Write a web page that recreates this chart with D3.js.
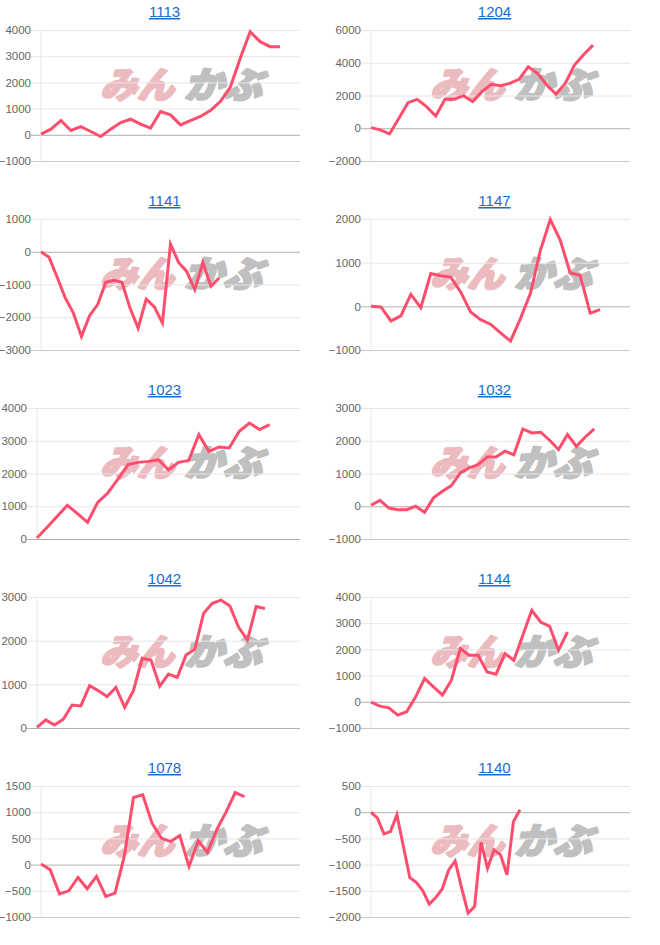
<!DOCTYPE html>
<html>
<head>
<meta charset="utf-8">
<script src="https://cdn.jsdelivr.net/npm/d3@7"></script>
<style>
  body { margin: 0; background: #fff; }
  svg { display: block; }
</style>
</head>
<body>
<div id="vis"></div>
<script>
// titulos de cada grafico (codigos)
const TITLES = ["1113", "1204", "1141", "1147", "1023", "1032", "1042", "1144", "1078", "1140"];

// cantidad de etiquetas en el eje x de cada grafico (etiquetas ocultas)
const SLOTS = [27, 29, 33, 27, 27, 30, 31, 30, 29, 41];

// ticks del eje y
const TICKS_1113 = [-1000, 0, 1000, 2000, 3000, 4000];
const TICKS_1204 = [-2000, 0, 2000, 4000, 6000];
const TICKS_1141 = [-3000, -2000, -1000, 0, 1000];
const TICKS_1147 = [-1000, 0, 1000, 2000];
const TICKS_1023 = [0, 1000, 2000, 3000, 4000];
const TICKS_1032 = [-1000, 0, 1000, 2000, 3000];
const TICKS_1042 = [0, 1000, 2000, 3000];
const TICKS_1144 = [-1000, 0, 1000, 2000, 3000, 4000];
const TICKS_1078 = [-1000, -500, 0, 500, 1000, 1500];
const TICKS_1140 = [-2000, -1500, -1000, -500, 0, 500];

// valores de cada serie
const V_1113 = [25, 215, 545, 165, 315, 125, -65, 215, 470, 595, 405, 255, 890, 760, 380, 545, 700, 925, 1270, 1815, 2920, 3935, 3555, 3365, 3365];
const V_1204 = [40, -100, -345, 600, 1565, 1765, 1320, 750, 1765, 1765, 1990, 1625, 2235, 2680, 2600, 2740, 2985, 3755, 3350, 2640, 2090, 2740, 3860, 4510, 5075];
const V_1141 = [0, -170, -780, -1410, -1870, -2585, -1950, -1615, -935, -875, -935, -1720, -2330, -1445, -1685, -2175, 235, -325, -600, -1160, -325, -1055, -800];
const V_1147 = [0, -15, -335, -220, 275, -30, 750, 700, 670, 330, -130, -305, -410, -610, -795, -280, 290, 1280, 1985, 1510, 765, 710, -155, -75];
const V_1023 = [30, 360, 695, 1030, 775, 510, 1120, 1405, 1830, 2270, 2340, 2370, 2420, 2115, 2340, 2400, 3185, 2675, 2810, 2780, 3290, 3540, 3340, 3490];
const V_1032 = [30, 180, -55, -105, -105, 0, -185, 255, 460, 630, 1020, 1170, 1270, 1505, 1505, 1680, 1575, 2360, 2240, 2260, 2015, 1730, 2190, 1830, 2115, 2360];
const V_1042 = [15, 185, 70, 200, 525, 505, 970, 855, 720, 930, 475, 855, 1595, 1555, 960, 1235, 1160, 1670, 1800, 2625, 2855, 2930, 2795, 2305, 2015, 2780, 2735];
const V_1144 = [-15, -165, -230, -510, -380, 190, 890, 570, 255, 825, 2030, 1775, 1775, 1140, 1055, 1840, 1585, 2540, 3490, 3045, 2880, 1965, 2665];
const V_1078 = [10, -100, -560, -500, -245, -460, -225, -605, -545, 155, 1280, 1330, 790, 505, 440, 555, -35, 455, 230, 665, 1000, 1375, 1295];
const V_1140 = [0, -115, -415, -370, -50, -650, -1250, -1340, -1500, -1755, -1630, -1465, -1100, -930, -1450, -1925, -1800, -575, -1070, -720, -815, -1195, -180, 45];

const TICKS = [TICKS_1113, TICKS_1204, TICKS_1141, TICKS_1147, TICKS_1023, TICKS_1032, TICKS_1042, TICKS_1144, TICKS_1078, TICKS_1140];
const VALUES = [V_1113, V_1204, V_1141, V_1147, V_1023, V_1032, V_1042, V_1144, V_1078, V_1140];

// Constantes del layout
const SVG_WIDTH = 660;
const SVG_HEIGHT = 945;
const COL_W = 330;
const ROW_H = 189;
const PLOT_TOP = 30;
const PLOT_H = 131;
const PLOT_RIGHT = 300;
const LINE_COLOR = "#ff4d6d";
const TICK_FONT = "11.5px 'Liberation Sans', Arial, sans-serif";

const SVG = d3.select("#vis").append("svg")
  .attr("width", SVG_WIDTH)
  .attr("height", SVG_HEIGHT);

// para medir el ancho de las etiquetas (como hace chart.js)
const ctx = document.createElement("canvas").getContext("2d");
ctx.font = TICK_FONT;

TITLES.forEach((title, i) => {
  const col = i % 2;
  const row = Math.floor(i / 2);
  const x0 = col * COL_W;
  const y0 = row * ROW_H;
  const ticks = TICKS[i];
  const values = VALUES[i];

  const maxLabel = d3.max(ticks, t => ctx.measureText(String(t)).width);
  const left = x0 + Math.ceil(maxLabel) + 11;
  const right = x0 + PLOT_RIGHT;
  const top = y0 + PLOT_TOP;
  const bottom = top + PLOT_H;

  const g = SVG.append("g");

  // marca de agua
  const wm = g.append("g")
    .attr("transform", `translate(${x0 + 100},${top + 68})`)
    .style("font-family", "'Noto Sans CJK JP', sans-serif")
    .style("font-weight", 900)
    .style("font-size", "36px")
    .attr("stroke-width", 2.2)
    .attr("stroke-linejoin", "round");
  wm.append("text")
    .attr("transform", "skewX(-16)")
    .attr("fill", "#ebbbbf")
    .attr("stroke", "#ebbbbf")
    .attr("textLength", 74)
    .attr("lengthAdjust", "spacingAndGlyphs")
    .text("みん");
  wm.append("text")
    .attr("transform", "skewX(-16)")
    .attr("x", 84)
    .attr("fill", "#c0c0c0")
    .attr("stroke", "#c0c0c0")
    .attr("textLength", 78)
    .attr("lengthAdjust", "spacingAndGlyphs")
    .text("かぶ");

  // escalas
  const x = d3.scalePoint()
    .domain(d3.range(SLOTS[i]))
    .range([left, right]);

  const y = d3.scaleLinear()
    .domain(d3.extent(ticks))
    .range([bottom, top]);

  // eje y con grilla
  const axis = g.append("g")
    .attr("transform", `translate(${left - 10},0)`)
    .call(d3.axisLeft(y)
      .tickValues(ticks)
      .tickSize(-(right - left + 10))
      .tickPadding(0)
      .tickFormat(d3.format("d")));
  axis.select(".domain").remove();
  axis.selectAll(".tick line")
    .attr("stroke", d => d === 0 ? "#b0b0b0" : (d === ticks[0] ? "#c8c8c8" : "#e6e6e6"));
  axis.selectAll(".tick text")
    .style("font", TICK_FONT)
    .attr("fill", "#666");

  // linea vertical izquierda
  g.append("line")
    .attr("x1", left).attr("x2", left)
    .attr("y1", top).attr("y2", bottom)
    .attr("stroke", "#e6e6e6");

  // serie
  const line = d3.line()
    .x((d, k) => x(k))
    .y(d => y(d));

  g.append("path")
    .datum(values)
    .attr("d", line)
    .attr("fill", "none")
    .attr("stroke", LINE_COLOR)
    .attr("stroke-width", 3);

  // titulo (link)
  g.append("a")
    .attr("href", "#")
    .append("text")
    .attr("x", x0 + 164.5)
    .attr("y", y0 + 17)
    .attr("text-anchor", "middle")
    .style("font-family", "'Liberation Sans', Arial, sans-serif")
    .style("font-size", "15px")
    .style("text-decoration", "underline")
    .attr("fill", "#1a6ccc")
    .text(title);
});
</script>
</body>
</html>
